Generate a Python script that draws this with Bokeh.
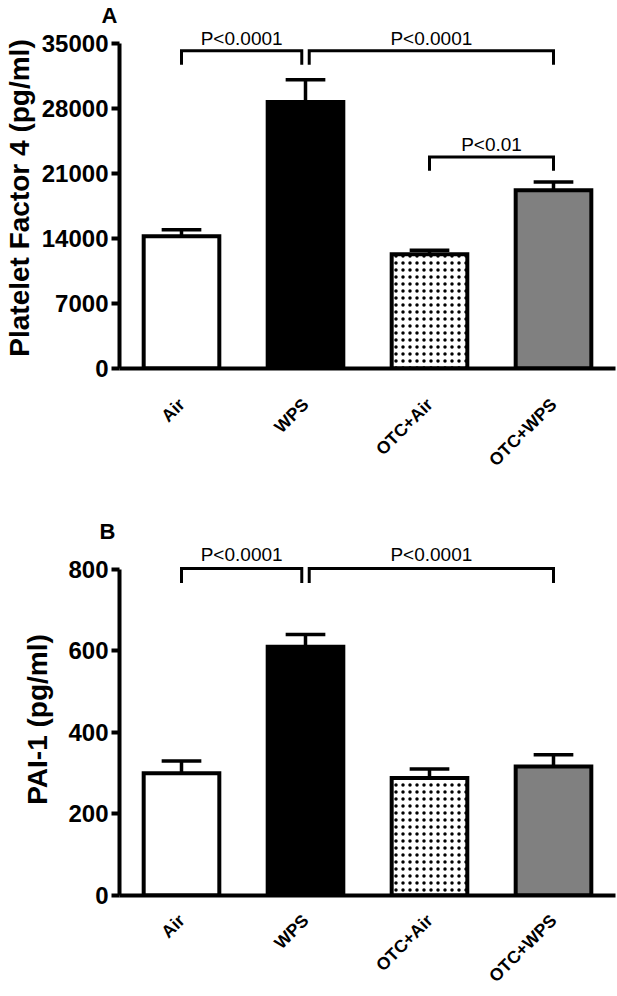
import math

from bokeh.embed import file_html
from bokeh.layouts import column
from bokeh.models import ColumnDataSource, FixedTicker, Label, Range1d
from bokeh.plotting import figure
from bokeh.resources import INLINE

# ---- data -------------------------------------------------------------
groups = ["Air", "WPS", "OTC+Air", "OTC+WPS"]

pf4_mean = [14250, 28700, 12300, 19200]
pf4_sem = [700, 2400, 440, 880]
pf4_ticks = [0, 7000, 14000, 21000, 28000, 35000]
# (group a, group b, bracket height, p-value text)
pf4_pairs = [(0, 1, 34200, "P<0.0001"), (1, 3, 34200, "P<0.0001"), (2, 3, 22780, "P<0.01")]

pai1_mean = [300, 610, 288, 316]
pai1_sem = [30, 30, 22, 29]
pai1_ticks = [0, 200, 400, 600, 800]
pai1_pairs = [(0, 1, 802, "P<0.0001"), (1, 3, 802, "P<0.0001")]

# ---- styling ----------------------------------------------------------
FONT = "Liberation Sans"
FILLS = ["white", "black", "white", "#808080"]
HATCHES = [" ", " ", "dot", " "]
BAR_W = 0.61
CAP = 0.16
SHARED_GAP = 0.03
W = 617


def bracket_ends(pairs):
    """Pull bracket ends apart where two brackets meet on the same group."""
    ends = []
    for k, (a, b, h, t) in enumerate(pairs):
        others = [q for j, q in enumerate(pairs) if j != k]
        xa = a + (SHARED_GAP if any(o[1] == a for o in others) else 0)
        xb = b - (SHARED_GAP if any(o[0] == b for o in others) else 0)
        ends.append((xa, xb, h, t))
    return ends


def panel(mean, sem, ticks, pairs, ylabel, letter, y_end, leg, height,
          top_border, bottom_border, ylabel_size, ylabel_standoff, letter_offset,
          p_offset, xlabel_standoff):
    p = figure(width=W, height=height, output_backend="svg", toolbar_location=None,
               x_range=Range1d(-0.5, len(groups) - 0.5), y_range=Range1d(0, y_end),
               min_border_left=114, min_border_right=2,
               min_border_top=top_border, min_border_bottom=bottom_border,
               title=letter)
    p.outline_line_color = None
    p.grid.visible = False
    p.background_fill_color = "white"
    p.border_fill_color = "white"

    # panel letter
    p.title.align = "left"
    p.title.offset = letter_offset
    p.title.standoff = 0
    p.title.text_font = FONT
    p.title.text_font_size = "22px"
    p.title.text_font_style = "bold"
    p.title.text_color = "black"

    xs = list(range(len(groups)))
    tops = [m + s for m, s in zip(mean, sem)]
    src = ColumnDataSource(dict(x=xs, top=mean, fill=FILLS, hatch=HATCHES,
                                err=tops, xl=[x - CAP for x in xs], xr=[x + CAP for x in xs]))

    p.vbar(x="x", top="top", bottom=0, width=BAR_W, source=src,
           fill_color="fill", line_color="black", line_width=4, line_join="miter",
           hatch_pattern="hatch", hatch_color="black", hatch_scale=7, hatch_weight=1.6)
    p.segment(x0="x", y0="top", x1="x", y1="err", source=src, line_color="black", line_width=3.5)
    p.segment(x0="xl", y0="err", x1="xr", y1="err", source=src, line_color="black", line_width=3.5)

    ends = bracket_ends(pairs)
    p.multi_line(xs=[[a, a, b, b] for a, b, h, t in ends],
                 ys=[[h - leg, h, h, h - leg] for a, b, h, t in ends],
                 line_color="black", line_width=3, line_join="miter")
    for a, b, h, t in ends:
        p.add_layout(Label(x=(a + b) / 2, y=h, y_offset=p_offset, text=t, text_align="center",
                           text_baseline="alphabetic", text_font=FONT,
                           text_font_size="19px", text_color="black"))

    ya = p.yaxis[0]
    ya.ticker = FixedTicker(ticks=ticks)
    ya.bounds = (ticks[0], ticks[-1])
    ya.axis_line_width = 4
    ya.axis_line_color = "black"
    ya.major_tick_line_width = 4
    ya.major_tick_line_color = "black"
    ya.major_tick_out = 8
    ya.major_tick_in = 0
    ya.minor_tick_out = 0
    ya.minor_tick_in = 0
    ya.major_label_standoff = 3
    ya.major_label_text_font = FONT
    ya.major_label_text_font_size = "24px"
    ya.major_label_text_font_style = "bold"
    ya.major_label_text_color = "black"
    ya.axis_label = ylabel
    ya.axis_label_standoff = ylabel_standoff
    ya.axis_label_text_font = FONT
    ya.axis_label_text_font_size = ylabel_size
    ya.axis_label_text_font_style = "bold"
    ya.axis_label_text_color = "black"

    xa = p.xaxis[0]
    xa.ticker = FixedTicker(ticks=xs)
    xa.major_label_overrides = {x: g for x, g in zip(xs, groups)}
    xa.axis_line_width = 4
    xa.axis_line_color = "black"
    xa.major_tick_out = 0
    xa.major_tick_in = 0
    xa.minor_tick_out = 0
    xa.minor_tick_in = 0
    xa.major_label_orientation = math.pi / 4
    xa.major_label_standoff = xlabel_standoff
    xa.major_label_text_font = FONT
    xa.major_label_text_font_size = "17.5px"
    xa.major_label_text_font_style = "bold"
    xa.major_label_text_color = "black"
    return p


p1 = panel(pf4_mean, pf4_sem, pf4_ticks, pf4_pairs, "Platelet Factor 4 (pg/ml)", "A",
           36713, 1500, 480, 26, 111, "28px", 4, -18, 12, 33)
p2 = panel(pai1_mean, pai1_sem, pai1_ticks, pai1_pairs, "PAI-1 (pg/ml)", "B",
           863, 36, 516, 63, 99, "28px", 12, -20, 14, 22)

layout = column(p1, p2)
open("out.html", "w").write(file_html(layout, INLINE))
